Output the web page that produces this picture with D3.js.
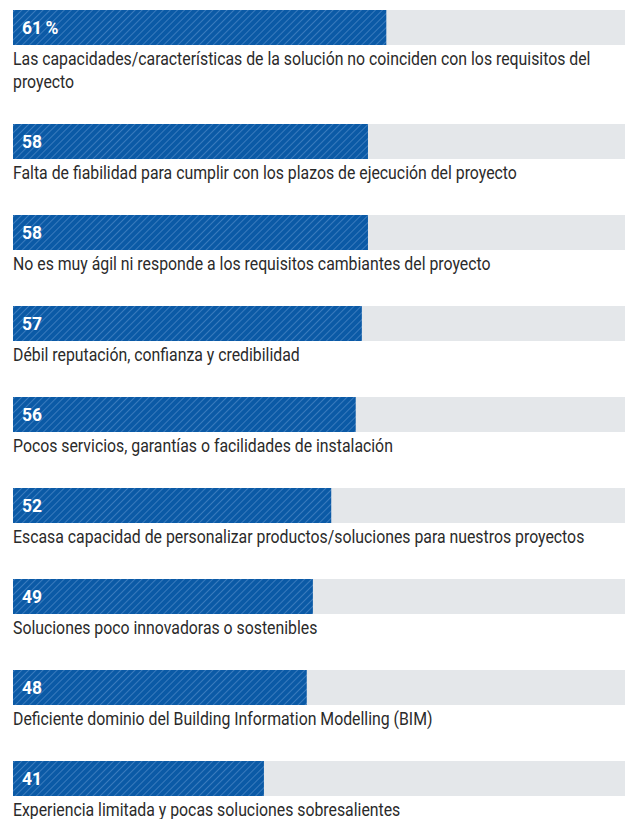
<!DOCTYPE html>
<html>
<head>
<meta charset="utf-8">
<script src="https://cdn.jsdelivr.net/npm/d3@7"></script>
<style>
  html, body { margin: 0; padding: 0; background: #ffffff; }
  svg { display: block; }
</style>
</head>
<body>
<div id="chart"></div>
<script>
const categories = [
  ["Las capacidades/características de la solución no coinciden con los requisitos del", "proyecto"],
  ["Falta de fiabilidad para cumplir con los plazos de ejecución del proyecto"],
  ["No es muy ágil ni responde a los requisitos cambiantes del proyecto"],
  ["Débil reputación, confianza y credibilidad"],
  ["Pocos servicios, garantías o facilidades de instalación"],
  ["Escasa capacidad de personalizar productos/soluciones para nuestros proyectos"],
  ["Soluciones poco innovadoras o sostenibles"],
  ["Deficiente dominio del Building Information Modelling (BIM)"],
  ["Experiencia limitada y pocas soluciones sobresalientes"]
];
const values = [61, 58, 58, 57, 56, 52, 49, 48, 41];
const valueLabels = ["61\u2009%", "58", "58", "57", "56", "52", "49", "48", "41"];

const W = 635, H = 819;
const left = 13, right = 625;
const barH = 35, step = 91, lineH = 23, top0 = 10;
const labelScale = 0.88, numScale = 0.92;

const svg = d3.select("#chart").append("svg").attr("width", W).attr("height", H);

const defs = svg.append("defs");
const pat = defs.append("pattern")
  .attr("id", "hatch")
  .attr("patternUnits", "userSpaceOnUse")
  .attr("width", 5).attr("height", 5)
  .attr("patternTransform", "rotate(45)");
pat.append("rect").attr("width", 5).attr("height", 5).attr("fill", "#0b5aa6");
pat.append("line").attr("x1", 0.5).attr("y1", 0).attr("x2", 0.5).attr("y2", 5)
  .attr("stroke", "#3a7bbd").attr("stroke-width", 1);

const x = d3.scaleLinear().domain([0, 100]).range([left, right]);

const tops = [];
let yy = top0;
categories.forEach((c) => { tops.push(yy); yy += step + lineH * (c.length - 1); });

const g = svg.selectAll("g.item").data(values).join("g").attr("class", "item")
  .attr("transform", (d, i) => `translate(0,${tops[i]})`);

g.append("rect").attr("x", x(0)).attr("y", 0).attr("width", x(100) - x(0)).attr("height", barH)
  .attr("fill", "#e4e7ea");
g.append("rect").attr("x", x(0)).attr("y", 0).attr("width", d => x(d) - x(0)).attr("height", barH)
  .attr("fill", "url(#hatch)");

g.append("text")
  .attr("transform", `translate(${x(0) + 9},24) scale(${numScale},1)`)
  .attr("fill", "#ffffff")
  .style("font-family", "Roboto, 'Noto Sans', sans-serif")
  .style("font-weight", "bold").style("font-size", "19px")
  .text((d, i) => valueLabels[i]);

g.each(function(d, i) {
  const t = d3.select(this).append("text")
    .attr("transform", `translate(${x(0)},0) scale(${labelScale},1)`)
    .attr("fill", "#2a2a2a")
    .style("font-family", "Roboto, 'Noto Sans', sans-serif")
    .style("font-size", "18px");
  categories[i].forEach((line, k) => {
    t.append("tspan").attr("x", 0).attr("y", barH + 20 + k * lineH).text(line);
  });
});
</script>
</body>
</html>
